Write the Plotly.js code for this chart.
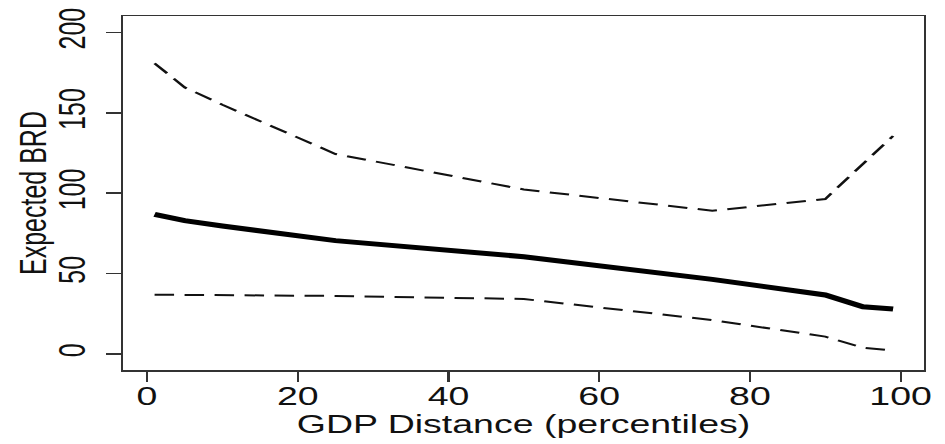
<!DOCTYPE html>
<html>
<head>
<meta charset="utf-8">
<script src="https://cdn.plot.ly/plotly-3.0.1.min.js"></script>
<style>
  html, body { margin: 0; padding: 0; background: #fff; overflow: hidden; }
  #wrap { width: 945px; height: 444px; overflow: hidden; }
  #chart { width: 630px; height: 444px; transform: scaleX(1.5); transform-origin: 0 0; }
</style>
</head>
<body>
<div id="wrap"><div id="chart"></div></div>
<script>
// GDP distance percentiles
const percentiles = [1, 5, 10, 25, 50, 75, 90, 95, 99];
// Expected BRD (point estimate)
const expectedBRD = [86.9, 82.9, 79.6, 70.5, 60.5, 46.4, 36.7, 29.4, 28.0];
// Upper confidence bound
const upperBound = [180.8, 165.8, 155.0, 124.4, 102.3, 89.1, 96.4, 118.3, 135.6];
// Lower confidence bound
const lowerBound = [36.9, 36.7, 36.5, 36.1, 34.2, 21.1, 10.8, 3.9, 2.1];
// Tick values
const xTicks = [0, 20, 40, 60, 80, 100];
const yTicks = [0, 50, 100, 150, 200];
const xTitle = 'GDP Distance (percentiles)';
const yTitle = 'Expected BRD';

const font = 'Liberation Sans, Arial, Helvetica, sans-serif';
const dashStyle = '13px,7px';

const traces = [
  { x: percentiles, y: upperBound, mode: 'lines', type: 'scatter',
    line: { color: '#111', width: 2, dash: dashStyle }, hoverinfo: 'skip' },
  { x: percentiles, y: lowerBound, mode: 'lines', type: 'scatter',
    line: { color: '#111', width: 2, dash: dashStyle }, hoverinfo: 'skip' },
  { x: percentiles, y: expectedBRD, mode: 'lines', type: 'scatter',
    line: { color: '#000', width: 5 }, hoverinfo: 'skip' }
];

const axisCommon = {
  showgrid: false, zeroline: false, showline: true, mirror: true,
  linecolor: '#333', linewidth: 1.5,
  ticks: 'outside', ticklen: 10, tickwidth: 1.5, tickcolor: '#333',
  tickfont: { family: font, size: 25, color: '#111' },
  automargin: false
};

const layout = {
  width: 630, height: 444,
  margin: { l: 82, r: 14, t: 16, b: 74 },
  paper_bgcolor: '#fff', plot_bgcolor: '#fff',
  showlegend: false,
  xaxis: Object.assign({}, axisCommon, {
    range: [-3.19, 103.1], tickmode: 'array', tickvals: xTicks, ticktext: xTicks.map(String),
    ticklabelstandoff: -6,
    title: { text: xTitle, font: { family: font, size: 25, color: '#111' }, standoff: 2 }
  }),
  yaxis: Object.assign({}, axisCommon, {
    range: [-9.95, 210.2], tickmode: 'array', tickvals: yTicks, ticktext: yTicks.map(String),
    tickangle: -90, ticklabelstandoff: 4
  }),
  annotations: [{
    text: yTitle, xref: 'paper', yref: 'paper', x: 0, y: 0.5,
    xanchor: 'center', yanchor: 'middle', xshift: -60, textangle: -90, showarrow: false,
    font: { family: font, size: 25, color: '#111' }
  }]
};

Plotly.newPlot('chart', traces, layout, { staticPlot: true, displayModeBar: false });
</script>
</body>
</html>
